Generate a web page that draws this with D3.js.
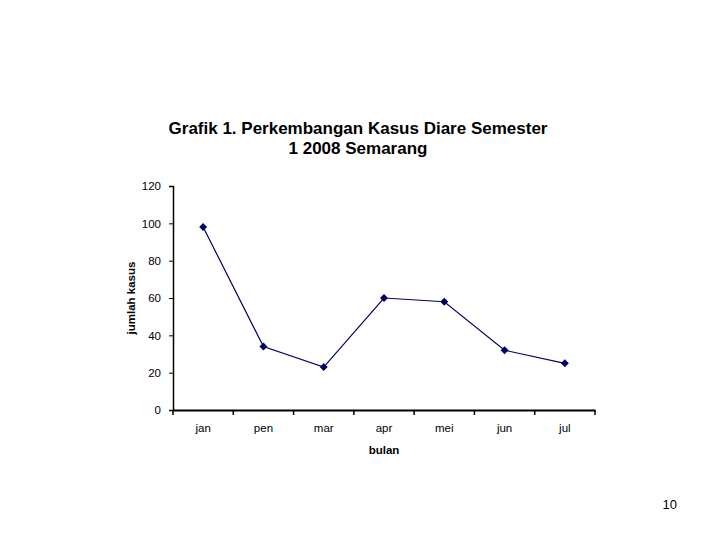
<!DOCTYPE html>
<html>
<head>
<meta charset="utf-8">
<script src="https://cdn.jsdelivr.net/npm/d3@7"></script>
<style>
  body { margin: 0; background: #fff; }
  svg { display: block; font-family: "Liberation Sans", Arial, sans-serif; }
</style>
</head>
<body>
<div id="chart"></div>
<script>
const months = ["jan", "pen", "mar", "apr", "mei", "jun", "jul"];
const cases = [98, 34, 23, 60, 58, 32, 25];
const yTicks = [0, 20, 40, 60, 80, 100, 120];
const titleLines = ["Grafik 1. Perkembangan Kasus Diare Semester", "1 2008 Semarang"];

const svg = d3.select("#chart").append("svg")
    .attr("width", 720)
    .attr("height", 540);

const margin = { top: 186, right: 125, bottom: 130, left: 173 };
const width = 720 - margin.left - margin.right;
const height = 540 - margin.top - margin.bottom;

const x = d3.scaleBand()
    .domain(months)
    .range([0, width]);

const y = d3.scaleLinear()
    .domain([0, 120])
    .range([height, 0]);

const g = svg.append("g")
    .attr("transform", `translate(${margin.left},${margin.top})`);

// title
svg.append("text")
    .attr("x", 358)
    .attr("y", 134)
    .attr("text-anchor", "middle")
    .style("font-size", "17px")
    .style("font-weight", "bold")
    .selectAll("tspan")
    .data(titleLines)
    .join("tspan")
    .attr("x", 358)
    .attr("dy", (d, i) => i === 0 ? 0 : 20)
    .text(d => d);

// y axis
const yAxis = g.append("g")
    .call(d3.axisLeft(y).tickValues(yTicks).tickSize(4).tickPadding(8));
yAxis.select(".domain").attr("stroke-width", 1.5);
yAxis.selectAll("text").style("font-size", "11.5px").attr("fill", "#000");

// x axis with ticks between categories
const xAxis = g.append("g")
    .attr("transform", `translate(0,${height})`)
    .call(d3.axisBottom(x).tickSize(0).tickPadding(14));
xAxis.select(".domain").attr("stroke-width", 2);
xAxis.selectAll("text").style("font-size", "11.5px").attr("fill", "#000");

const bounds = months.map(m => x(m)).concat([width]);
g.append("g")
    .selectAll("line")
    .data(bounds)
    .join("line")
    .attr("x1", d => d)
    .attr("x2", d => d)
    .attr("y1", height)
    .attr("y2", height + 5)
    .attr("stroke", "#000")
    .attr("stroke-width", 1.5);

// axis titles
svg.append("text")
    .attr("x", 384)
    .attr("y", 454)
    .attr("text-anchor", "middle")
    .style("font-size", "11.5px")
    .style("font-weight", "bold")
    .text("bulan");

svg.append("text")
    .attr("transform", "translate(135,298) rotate(-90)")
    .attr("text-anchor", "middle")
    .style("font-size", "11.5px")
    .style("font-weight", "bold")
    .text("jumlah kasus");

// line
const line = d3.line()
    .x((d, i) => x(months[i]) + x.bandwidth() / 2)
    .y(d => y(d));

g.append("path")
    .datum(cases)
    .attr("fill", "none")
    .attr("stroke", "#000066")
    .attr("stroke-width", 1.2)
    .attr("d", line);

g.selectAll(".pt")
    .data(cases)
    .join("path")
    .attr("class", "pt")
    .attr("transform", (d, i) => `translate(${x(months[i]) + x.bandwidth() / 2},${y(d)})`)
    .attr("d", d3.symbol(d3.symbolDiamond2, 40))
    .attr("fill", "#000066");

// page number
svg.append("text")
    .attr("x", 677)
    .attr("y", 509)
    .attr("text-anchor", "end")
    .style("font-size", "13px")
    .text("10");
</script>
</body>
</html>
